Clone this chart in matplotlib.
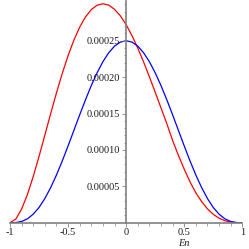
import numpy as np
import matplotlib
matplotlib.use("Agg")
import matplotlib.pyplot as plt
from matplotlib.ticker import MultipleLocator, FormatStrFormatter

# values, in units of 1e-5
x = np.round(np.arange(-1.0, 1.0001, 0.05), 2)
blue_vals = [0.0, 0.02, 0.17, 0.53, 1.17, 2.09, 3.32, 4.82, 6.55, 8.48,
             10.55, 12.68, 14.82, 16.89, 18.84, 20.60, 22.12, 23.35, 24.26, 24.81,
             25.00,
             24.81, 24.26, 23.35, 22.12, 20.60, 18.84, 16.89, 14.82, 12.68, 10.55,
             8.48, 6.55, 4.82, 3.32, 2.09, 1.17, 0.53, 0.17, 0.02, 0.0]
red_vals = [0.0, 0.50, 1.87, 3.87, 6.35, 9.11, 12.03, 14.97, 17.83, 20.51,
            22.95, 25.08, 26.87, 28.27, 29.28, 29.88, 30.08, 29.89, 29.32, 28.42,
            27.20,
            25.71, 23.99, 22.09, 20.05, 17.93, 15.77, 13.61, 11.30, 9.25, 7.35,
            5.60, 4.10, 2.90, 1.90, 1.15, 0.62, 0.27, 0.08, 0.01, 0.0]
blue = np.array(blue_vals) * 1e-5
red = np.array(red_vals) * 1e-5

fig = plt.figure(figsize=(2.49, 2.49), dpi=100)
ax = fig.add_axes([10 / 249, 26.3 / 249, 232.3 / 249, 222.0 / 249])

ax.plot(x, red, color="#ff0000", linewidth=0.9)
ax.plot(x, blue, color="#0000ff", linewidth=0.9)

ax.set_xlim(-1, 1)
ax.set_ylim(0, 3.05e-4)

for side in ["top", "right"]:
    ax.spines[side].set_visible(False)
ax.spines["left"].set_position(("data", 0))
for side in ["left", "bottom"]:
    ax.spines[side].set_color("#808080")
    ax.spines[side].set_linewidth(1.2)
ax.set_axisbelow(False)

ax.xaxis.set_minor_locator(MultipleLocator(0.1))
ax.yaxis.set_minor_locator(MultipleLocator(1e-5))
ax.yaxis.set_major_formatter(FormatStrFormatter("%.5f"))
ax.set_xticks([-1, -0.5, 0, 0.5, 1])
ax.set_xticklabels(["-1", "-0.5", "0", "0.5", "1"])
ax.set_yticks([5e-5, 1e-4, 1.5e-4, 2e-4, 2.5e-4])

ax.tick_params(which="both", color="#808080", labelsize=7.4,
               labelcolor="#1a1a1a", pad=1.5)
ax.tick_params(axis="x", which="both", pad=0.8)
ax.tick_params(which="major", length=3, width=0.6)
ax.tick_params(which="minor", length=1.8, width=0.5)
for lab in ax.get_xticklabels() + ax.get_yticklabels():
    lab.set_family("Liberation Serif")

fig.text(184 / 249, 1 - 243 / 249, "En", family="Liberation Serif",
         style="italic", fontsize=7.4, color="#1a1a1a",
         ha="center", va="center")

fig.savefig("out.png", dpi=100)
